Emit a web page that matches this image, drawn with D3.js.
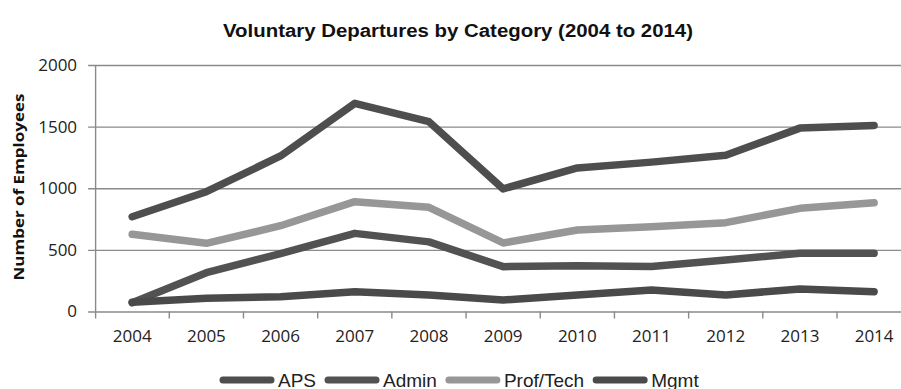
<!DOCTYPE html>
<html>
<head>
<meta charset="utf-8">
<script src="https://cdn.jsdelivr.net/npm/d3@7/dist/d3.min.js"></script>
<style>
  html, body { margin: 0; padding: 0; background: #fff; }
  svg { display: block; }
</style>
</head>
<body>
<svg id="chart" width="901" height="389"></svg>
<script>
// Voluntary departures per staff category, 2004–2014
const years = ["2004","2005","2006","2007","2008","2009","2010","2011","2012","2013","2014"];
const aps      = [769, 972, 1262, 1689, 1540, 995, 1165, 1212, 1268, 1488, 1510];
const admin    = [71, 315, 470, 634, 565, 364, 372, 366, 418, 472, 472];
const profTech = [626, 553, 696, 891, 845, 556, 661, 688, 721, 837, 883];
const mgmt     = [75, 107, 120, 161, 134, 93, 134, 174, 134, 183, 161];
const yTicks   = [0, 500, 1000, 1500, 2000];

const seriesNames  = ["APS", "Admin", "Prof/Tech", "Mgmt"];
const seriesValues = [aps, admin, profTech, mgmt];
const seriesColors = ["#4e4e4e", "#525252", "#979797", "#4a4a4a"];

const svg = d3.select("#chart");
const plotLeft = 95.1, plotRight = 911.2, plotTop = 65, plotBottom = 311.5;

const x = d3.scaleBand().domain(years).range([plotLeft, plotRight]);
const y = d3.scaleLinear().domain([0, 2000]).range([plotBottom, plotTop]);

// Title
svg.append("text")
  .attr("x", 458).attr("y", 37)
  .attr("text-anchor", "middle")
  .attr("font-family", "'Liberation Sans Narrow', 'Arial Narrow', 'Liberation Sans', Arial, sans-serif")
  .attr("font-weight", "bold")
  .attr("font-size", 18)
  .attr("fill", "#111")
  .attr("textLength", 470)
  .attr("lengthAdjust", "spacingAndGlyphs")
  .text("Voluntary Departures by Category (2004 to 2014)");

// Y-axis title
svg.append("text")
  .attr("transform", "translate(24,187) rotate(-90)")
  .attr("text-anchor", "middle")
  .attr("font-family", "'Open Sans', 'DejaVu Sans', sans-serif")
  .attr("font-weight", "bold")
  .attr("font-size", 15)
  .attr("fill", "#111")
  .attr("textLength", 187)
  .attr("lengthAdjust", "spacingAndGlyphs")
  .text("Number of Employees");

// Horizontal gridlines with short ticks to the left of the axis
const yAxis = d3.axisLeft(y).tickValues(yTicks).tickSize(0).tickPadding(18).tickFormat(d3.format("d"));
const gy = svg.append("g").attr("transform", `translate(${plotLeft},0)`).call(yAxis);
gy.select(".domain").remove();
gy.selectAll(".tick line")
  .attr("x1", -7).attr("x2", 901 - plotLeft + 10)
  .attr("stroke", "#8a8a8a").attr("stroke-width", 1.4);
gy.selectAll(".tick text")
  .attr("font-family", "'Open Sans', 'DejaVu Sans', sans-serif")
  .attr("font-size", 17)
  .attr("fill", "#222");

// Vertical axis line
svg.append("line")
  .attr("x1", plotLeft + 0.5).attr("x2", plotLeft + 0.5)
  .attr("y1", plotTop).attr("y2", plotBottom + 7)
  .attr("stroke", "#8a8a8a").attr("stroke-width", 1.4);

// Category axis: ticks sit on the band boundaries
const xAxis = d3.axisBottom(x).tickSize(0).tickPadding(18);
const gx = svg.append("g").attr("transform", `translate(0,${plotBottom})`).call(xAxis);
gx.select(".domain").remove();
gx.selectAll(".tick text")
  .attr("font-family", "'Open Sans', 'DejaVu Sans', sans-serif")
  .attr("font-size", 17)
  .attr("fill", "#222");
svg.append("g").selectAll("line")
  .data(years.slice(1))
  .join("line")
  .attr("x1", d => x(d)).attr("x2", d => x(d))
  .attr("y1", plotBottom).attr("y2", plotBottom + 7)
  .attr("stroke", "#8a8a8a").attr("stroke-width", 1.4);

// Series lines
const line = d3.line()
  .x((d, i) => x(years[i]) + x.bandwidth() / 2)
  .y(d => y(d));

svg.append("g").selectAll("path")
  .data(seriesValues)
  .join("path")
  .attr("d", d => line(d))
  .attr("fill", "none")
  .attr("stroke", (d, i) => seriesColors[i])
  .attr("stroke-width", 7.5)
  .attr("stroke-linecap", "round")
  .attr("stroke-linejoin", "round");

// Legend, centred under the plot
const legend = svg.append("g");
const items = legend.selectAll("g")
  .data(seriesNames)
  .join("g");
items.append("line")
  .attr("x1", 0).attr("x2", 48)
  .attr("y1", 0).attr("y2", 0)
  .attr("stroke", (d, i) => seriesColors[i])
  .attr("stroke-width", 7)
  .attr("stroke-linecap", "round");
items.append("text")
  .attr("x", 55).attr("y", 6.5)
  .attr("font-family", "'Liberation Sans', Arial, sans-serif")
  .attr("font-size", 19)
  .attr("fill", "#222")
  .text(d => d);
let cx = 223;
items.each(function () {
  const g = d3.select(this);
  g.attr("transform", `translate(${cx},380)`);
  const w = g.select("text").node().getComputedTextLength();
  cx += 55 + w + 12;
});
</script>
</body>
</html>
